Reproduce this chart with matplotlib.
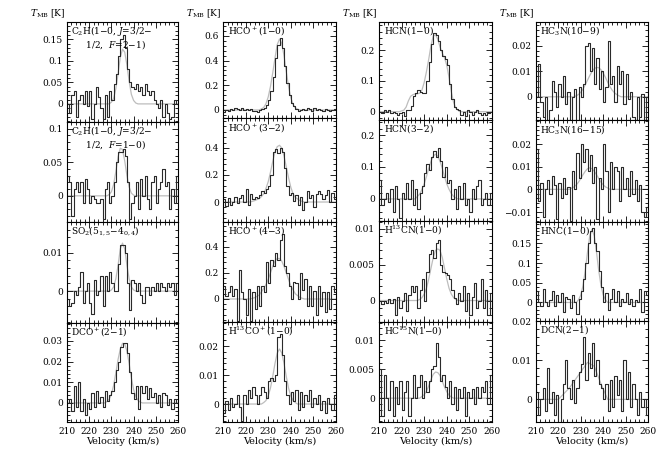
import numpy as np
import matplotlib
matplotlib.use("Agg")
import matplotlib.pyplot as plt
from matplotlib.ticker import MultipleLocator, FixedLocator, FuncFormatter

plt.rcParams['font.family'] = ['DejaVu Serif']
plt.rcParams['mathtext.fontset'] = 'dejavuserif'

# channel edges (km/s), 1 km/s channels
edges = np.arange(210, 261, 1)

# ---- spectra (T_MB in K), one value per channel 210..259 ----
c2h_21 = [0.0, -0.02, 0.02, 0.03, -0.03, 0.01, 0.02, 0.0, 0.03, -0.005,
          0.03, -0.035, 0.0, 0.04, 0.015, -0.01, -0.035, 0.02, -0.03, 0.03,
          0.01, 0.045, 0.07, 0.11, 0.15, 0.16, 0.13, 0.08, 0.05, 0.04,
          0.035, 0.045, 0.03, 0.04, 0.02, 0.045, 0.03, 0.02, 0.03, 0.01,
          0.0, -0.01, 0.01, -0.03, 0.0, -0.02, -0.035, -0.03, 0.01, 0.0]
c2h_10 = [0.03, 0.02, -0.03, 0.01, 0.02, 0.005, 0.02, -0.01, 0.025, 0.01,
          -0.01, 0.0, -0.005, -0.01, -0.01, -0.005, -0.035, 0.01, 0.02, -0.01,
          0.0, 0.02, 0.05, 0.065, 0.065, 0.07, 0.06, 0.02, -0.035, -0.01,
          0.0, 0.02, -0.02, 0.025, 0.0, 0.03, -0.005, -0.02, 0.02, 0.03,
          -0.01, 0.01, 0.02, 0.04, 0.015, 0.02, -0.02, 0.01, -0.01, 0.03]
so2 = [-0.002, -0.004, -0.003, 0.0, -0.001, 0.001, 0.005, -0.003, 0.0, 0.002,
       -0.003, -0.006, 0.003, -0.001, 0.0, 0.004, -0.004, 0.004, 0.0, 0.005,
       0.002, 0.0, 0.0, 0.007, 0.012, 0.012, 0.01, 0.002, -0.005, 0.003,
       0.002, 0.0, 0.002, -0.001, -0.003, 0.001, 0.001, -0.001, 0.001, 0.0,
       0.002, 0.0, 0.002, 0.001, 0.0, 0.002, 0.001, 0.002, -0.001, 0.002]
dco = [0.0, 0.002, -0.004, 0.008, -0.002, 0.01, -0.004, 0.002, -0.006, 0.0,
       -0.003, 0.005, -0.002, 0.006, 0.0, 0.003, -0.002, 0.006, 0.001, 0.004,
       0.006, 0.01, 0.016, 0.02, 0.027, 0.029, 0.029, 0.024, 0.015, 0.005,
       0.002, 0.008, -0.003, 0.008, 0.005, 0.008, 0.002, 0.007, 0.003, 0.005,
       0.0, 0.004, -0.002, 0.005, 0.004, -0.001, 0.002, -0.003, 0.002, 0.0]
hco_10 = [-0.02, 0.0, -0.01, 0.01, 0.0, 0.02, 0.01, 0.0, 0.02, 0.0,
          0.01, 0.0, 0.01, -0.01, -0.005, -0.02, 0.0, 0.01, 0.02, 0.04,
          0.08, 0.15, 0.27, 0.42, 0.53, 0.58, 0.5, 0.36, 0.22, 0.12,
          0.06, 0.03, 0.01, -0.01, 0.0, 0.01, 0.0, 0.02, 0.01, -0.01,
          0.02, 0.0, 0.01, 0.0, -0.01, 0.01, 0.0, -0.01, 0.0, 0.01]
hco_32 = [0.02, -0.03, 0.03, -0.02, 0.0, 0.04, -0.01, 0.03, 0.05, 0.0,
          0.1, -0.02, 0.06, 0.02, 0.04, 0.03, 0.05, 0.08, 0.07, 0.1,
          0.12, 0.2, 0.37, 0.39, 0.36, 0.4, 0.37, 0.25, 0.12, 0.05,
          0.07, 0.01, 0.05, -0.02, 0.04, -0.06, 0.0, 0.08, 0.03, 0.05,
          -0.04, 0.06, 0.08, 0.06, 0.02, 0.05, 0.09, 0.0, 0.07, 0.02]
hco_43 = [0.1, 0.02, 0.05, 0.1, 0.02, 0.08, -0.17, 0.22, 0.05, 0.0,
          -0.12, 0.08, -0.17, 0.05, -0.08, 0.1, -0.05, 0.1, 0.05, 0.28,
          0.12, 0.3, 0.25, 0.35, 0.3, 0.45, 0.5, 0.25, 0.2, 0.1,
          0.0, 0.13, 0.12, 0.0, 0.2, 0.07, 0.15, -0.05, 0.1, -0.05,
          0.06, -0.12, 0.1, -0.05, 0.05, -0.1, 0.05, -0.08, 0.1, 0.05]
h13co = [-0.003, 0.001, -0.002, 0.002, -0.001, 0.0, 0.003, -0.001, -0.006, 0.003,
         0.0, 0.005, 0.002, 0.006, 0.003, 0.0, 0.003, 0.006, 0.004, 0.002,
         0.008, 0.009, 0.008, 0.01, 0.023, 0.024, 0.017, 0.008, 0.003, 0.0,
         0.004, 0.001, 0.005, -0.002, 0.004, -0.001, 0.003, 0.001, 0.005, -0.001,
         0.002, 0.0, 0.003, -0.002, 0.001, -0.003, 0.002, 0.0, -0.002, 0.003]
hcn_10 = [0.0, -0.005, 0.005, 0.0, 0.005, -0.005, 0.0, -0.005, -0.01, -0.005,
          0.0, -0.015, 0.005, 0.005, 0.02, 0.05, 0.06, 0.07, 0.065, 0.06,
          0.06, 0.1, 0.16, 0.22, 0.255, 0.25, 0.23, 0.2, 0.18, 0.17,
          0.15, 0.09, 0.04, 0.015, 0.01, 0.005, -0.01, 0.0, -0.015, 0.005,
          0.0, -0.01, 0.0, 0.005, -0.005, -0.01, -0.005, -0.01, -0.005, 0.0]
hcn_32 = [0.06, -0.02, 0.0, 0.02, -0.01, 0.03, -0.04, 0.04, 0.0, -0.06,
          0.02, 0.0, 0.05, 0.0, 0.06, -0.02, 0.03, -0.03, 0.02, 0.04,
          0.08, 0.11, 0.09, 0.13, 0.15, 0.13, 0.16, 0.12, 0.07, 0.1,
          0.05, 0.06, 0.0, 0.03, -0.03, 0.04, 0.0, 0.05, -0.02, 0.0,
          -0.04, 0.03, 0.0, 0.04, 0.06, -0.02, 0.0, 0.02, -0.02, 0.02]
h13cn = [0.0, -0.0005, 0.0, -0.0003, 0.0002, -0.0004, 0.0002, -0.002, 0.0005, -0.001,
         0.0, 0.001, -0.0015, 0.0008, 0.002, 0.0012, 0.002, -0.001, 0.0015, 0.003,
         0.0, 0.004, 0.0065, 0.007, 0.006, 0.008, 0.0085, 0.005, 0.004, 0.0038,
         0.0035, 0.003, 0.0015, 0.0003, -0.0005, 0.001, 0.0, 0.002, -0.0015, 0.001,
         -0.002, 0.0005, 0.0025, -0.001, 0.0, 0.003, -0.001, 0.0015, -0.002, 0.001]
hc15n = [0.005, -0.003, 0.004, 0.0, -0.002, 0.003, -0.003, 0.002, -0.001, 0.003,
         -0.002, 0.001, 0.003, -0.003, 0.0, 0.004, 0.0, 0.002, 0.004, 0.0,
         0.003, 0.001, 0.003, 0.005, 0.0055, 0.0095, 0.007, 0.003, 0.004, 0.002,
         0.0, 0.003, -0.001, 0.002, -0.002, 0.0015, 0.0, 0.002, -0.003, 0.001,
         0.0, 0.0015, -0.001, 0.002, 0.0, 0.002, 0.001, 0.003, -0.001, 0.004]
hc3n_109 = [0.0, 0.013, -0.002, -0.008, 0.0, -0.01, -0.005, 0.006, 0.002, -0.004,
            0.005, 0.0, 0.008, -0.003, 0.002, -0.012, 0.0, 0.003, -0.012, 0.004,
            0.0, 0.005, 0.02, 0.021, 0.01, 0.019, 0.005, 0.015, 0.003, 0.01,
            -0.002, 0.004, 0.022, 0.005, 0.008, -0.002, 0.012, 0.005, 0.01, -0.003,
            0.009, -0.001, 0.002, -0.008, -0.009, 0.0, -0.008, 0.001, -0.009, 0.0]
hc3n_1615 = [0.018, -0.005, 0.003, -0.012, 0.0, 0.004, -0.002, 0.006, 0.002, -0.013,
             0.003, -0.004, 0.005, -0.002, 0.001, -0.014, 0.008, 0.0, 0.016, 0.005,
             0.02, 0.012, 0.018, 0.008, 0.015, 0.003, 0.01, -0.013, 0.005, 0.0,
             0.02, 0.008, -0.01, 0.012, 0.0, 0.01, 0.008, -0.005, 0.01, 0.0,
             0.005, -0.003, 0.008, -0.002, 0.004, -0.005, 0.002, -0.01, -0.012, -0.008]
hnc = [0.03, 0.0, -0.01, 0.035, 0.0, -0.01, 0.005, 0.03, -0.01, 0.02,
       0.0, 0.025, -0.025, 0.015, 0.01, -0.015, 0.02, 0.0, -0.03, 0.01,
       0.03, 0.06, 0.1, 0.15, 0.18, 0.19, 0.15, 0.13, 0.08, 0.04,
       0.0, 0.025, -0.02, 0.01, 0.035, 0.0, 0.03, -0.01, 0.01, 0.0,
       0.025, -0.005, 0.01, -0.01, 0.005, 0.0, 0.035, -0.025, 0.03, 0.02]
dcn = [0.002, -0.004, 0.0, 0.003, -0.003, 0.008, -0.001, 0.002, -0.004, 0.001,
       -0.006, 0.0, 0.004, 0.01, 0.003, 0.0, 0.005, -0.001, 0.003, 0.007,
       0.009, 0.016, 0.005, 0.012, 0.008, 0.0145, 0.006, 0.01, 0.004, 0.003,
       0.0, 0.004, -0.003, 0.005, -0.002, 0.006, 0.001, 0.005, -0.003, 0.01,
       0.0, 0.007, -0.002, 0.004, 0.0, -0.004, 0.002, -0.002, 0.0, -0.004]

c2h_21_fit_v = [210, 229, 230, 231, 232, 233, 234, 235, 236, 237, 238, 239, 240, 241, 242, 260]
c2h_21_fit_t = [0, 0, 0.004, 0.013, 0.035, 0.07, 0.108, 0.127, 0.12, 0.09, 0.052, 0.022, 0.008, 0.002, 0, 0]
c2h_10_fit_v = [210, 228, 229, 230, 231, 232, 233, 234, 235, 236, 237, 238, 239, 240, 241, 260]
c2h_10_fit_t = [0, 0, 0.002, 0.006, 0.017, 0.036, 0.058, 0.071, 0.069, 0.052, 0.03, 0.013, 0.004, 0.001, 0, 0]
so2_fit_v = [210, 229, 230, 231, 232, 233, 234, 235, 236, 237, 238, 239, 240, 241, 260]
so2_fit_t = [0, 0, 0.0003, 0.0011, 0.0032, 0.0067, 0.011, 0.0125, 0.011, 0.0067, 0.0032, 0.0011, 0.0003, 0, 0]
dco_fit_v = [210, 227, 228, 229, 230, 231, 232, 233, 234, 235, 236, 237, 238, 239, 240, 241, 242, 243, 244, 260]
dco_fit_t = [0, 0, 0.0007, 0.0018, 0.0042, 0.0085, 0.0145, 0.021, 0.026, 0.0288, 0.0285, 0.025, 0.019, 0.012,
             0.0065, 0.003, 0.0012, 0.0004, 0, 0]
hco_10_fit_v = [210, 226, 227, 228, 229, 230, 231, 232, 233, 234, 235, 236, 237, 238, 239, 240, 241, 242, 243, 244, 260]
hco_10_fit_t = [0, 0, 0.0085, 0.02, 0.05, 0.105, 0.19, 0.3, 0.42, 0.53, 0.575, 0.54, 0.44, 0.31, 0.19, 0.1,
                0.045, 0.018, 0.006, 0, 0]
hco_32_fit_v = [210, 222, 224, 226, 227, 228, 229, 230, 231, 232, 233, 234, 235, 236, 237, 238, 239, 240, 241,
                242, 244, 246, 260]
hco_32_fit_t = [0, 0, 0.01, 0.025, 0.04, 0.06, 0.1, 0.15, 0.22, 0.3, 0.37, 0.41, 0.42, 0.4, 0.34, 0.26, 0.18,
                0.11, 0.06, 0.035, 0.01, 0, 0]
hco_43_fit_v = [210, 222, 224, 226, 228, 229, 230, 231, 232, 233, 234, 235, 236, 237, 238, 239, 240, 241, 242,
                244, 246, 260]
hco_43_fit_t = [0, 0, 0.01, 0.03, 0.08, 0.11, 0.15, 0.2, 0.25, 0.29, 0.31, 0.31, 0.29, 0.25, 0.2, 0.15, 0.1,
                0.07, 0.04, 0.012, 0, 0]
h13co_fit_v = [210, 227, 228, 229, 230, 231, 232, 233, 234, 235, 236, 237, 238, 239, 240, 241, 242, 243, 260]
h13co_fit_t = [0, 0, 0.0005, 0.0012, 0.0028, 0.0055, 0.0095, 0.014, 0.0176, 0.019, 0.0176, 0.014, 0.0095,
               0.0055, 0.0028, 0.0012, 0.0005, 0, 0]
hcn_10_fit_v = [210, 219, 221, 222, 223, 224, 225, 226, 227, 228, 229, 230, 231, 232, 233, 234, 235, 236, 237,
                238, 239, 240, 241, 242, 243, 244, 245, 246, 260]
hcn_10_fit_t = [0, 0, 0.005, 0.015, 0.035, 0.05, 0.055, 0.058, 0.058, 0.06, 0.07, 0.095, 0.13, 0.17, 0.215,
                0.245, 0.25, 0.235, 0.21, 0.19, 0.175, 0.15, 0.11, 0.065, 0.03, 0.012, 0.004, 0, 0]
hcn_32_fit_v = [210, 226, 227, 228, 229, 230, 231, 232, 233, 234, 235, 236, 237, 238, 239, 240, 241, 242, 243,
                244, 245, 260]
hcn_32_fit_t = [0, 0, 0.008, 0.015, 0.03, 0.047, 0.07, 0.096, 0.118, 0.134, 0.14, 0.134, 0.118, 0.096, 0.07,
                0.047, 0.03, 0.017, 0.008, 0.003, 0, 0]
h13cn_fit_v = [210, 227, 228, 229, 230, 231, 232, 233, 234, 235, 236, 237, 238, 239, 240, 241, 242, 243, 244,
               245, 260]
h13cn_fit_t = [0, 0, 0.00015, 0.0004, 0.0009, 0.0017, 0.003, 0.0045, 0.006, 0.007, 0.0072, 0.007, 0.006,
               0.0045, 0.003, 0.0017, 0.0009, 0.0004, 0.00015, 0, 0]
hc15n_fit_v = [210, 228, 229, 230, 231, 232, 233, 234, 235, 236, 237, 238, 239, 240, 241, 242, 243, 260]
hc15n_fit_t = [0, 0, 0.0003, 0.0006, 0.0012, 0.0021, 0.0032, 0.0041, 0.0045, 0.0044, 0.0039, 0.0029, 0.0019,
               0.0011, 0.0005, 0.0002, 0, 0]
hc3n_109_fit_v = [210, 227, 228, 229, 230, 231, 232, 233, 234, 235, 236, 237, 238, 239, 240, 241, 242, 243,
                  244, 245, 246, 247, 248, 260]
hc3n_109_fit_t = [0, 0, 0.0004, 0.0009, 0.0018, 0.003, 0.0047, 0.0065, 0.0083, 0.0099, 0.011, 0.0115, 0.0114,
                  0.0106, 0.0093, 0.0076, 0.0057, 0.004, 0.0026, 0.0016, 0.0009, 0.0004, 0, 0]
hc3n_1615_fit_v = [210, 225, 226, 227, 228, 229, 230, 231, 232, 233, 234, 235, 236, 237, 238, 239, 240, 241,
                   242, 243, 260]
hc3n_1615_fit_t = [0, 0, 0.0006, 0.0011, 0.002, 0.0032, 0.0048, 0.0065, 0.008, 0.0091, 0.0095, 0.0091, 0.008,
                   0.0065, 0.0048, 0.0032, 0.002, 0.0011, 0.0006, 0, 0]
hnc_fit_v = [210, 228, 229, 230, 231, 232, 233, 234, 235, 236, 237, 238, 239, 240, 241, 242, 260]
hnc_fit_t = [0, 0, 0.007, 0.019, 0.043, 0.081, 0.128, 0.169, 0.185, 0.169, 0.128, 0.081, 0.043, 0.019, 0.007,
             0, 0]
dcn_fit_v = [210, 220, 225, 233, 236, 239, 242, 260]
dcn_fit_t = [0, 0, 0.003, 0.0095, 0.0085, 0.004, 0, 0]

# ---- panel labels ----
labels = [
    ["C$_2$H(1$-$0, $J$=3/2$-$\n     1/2,  $F$=2$-$1)", "C$_2$H(1$-$0, $J$=3/2$-$\n     1/2,  $F$=1$-$0)",
     "SO$_2$(5$_{1,5}$$-$4$_{0,4}$)", "DCO$^+$(2$-$1)"],
    ["HCO$^+$(1$-$0)", "HCO$^+$(3$-$2)", "HCO$^+$(4$-$3)", "H$^{13}$CO$^+$(1$-$0)"],
    ["HCN(1$-$0)", "HCN(3$-$2)", "H$^{13}$CN(1$-$0)", "HC$^{15}$N(1$-$0)"],
    ["HC$_3$N(10$-$9)", "HC$_3$N(16$-$15)", "HNC(1$-$0)", "DCN(2$-$1)"],
]

spectra = [[c2h_21, c2h_10, so2, dco],
           [hco_10, hco_32, hco_43, h13co],
           [hcn_10, hcn_32, h13cn, hc15n],
           [hc3n_109, hc3n_1615, hnc, dcn]]
fits = [[(c2h_21_fit_v, c2h_21_fit_t), (c2h_10_fit_v, c2h_10_fit_t), (so2_fit_v, so2_fit_t), (dco_fit_v, dco_fit_t)],
        [(hco_10_fit_v, hco_10_fit_t), (hco_32_fit_v, hco_32_fit_t), (hco_43_fit_v, hco_43_fit_t),
         (h13co_fit_v, h13co_fit_t)],
        [(hcn_10_fit_v, hcn_10_fit_t), (hcn_32_fit_v, hcn_32_fit_t), (h13cn_fit_v, h13cn_fit_t),
         (hc15n_fit_v, hc15n_fit_t)],
        [(hc3n_109_fit_v, hc3n_109_fit_t), (hc3n_1615_fit_v, hc3n_1615_fit_t), (hnc_fit_v, hnc_fit_t),
         (dcn_fit_v, dcn_fit_t)]]

# y limits, labelled ticks, minor step
ylims = [[(-0.042, 0.19), (-0.039, 0.11), (-0.0083, 0.018), (-0.0092, 0.0386)],
         [(-0.065, 0.713), (-0.148, 0.622), (-0.176, 0.589), (-0.0062, 0.0283)],
         [(-0.027, 0.291), (-0.069, 0.247), (-0.003, 0.0111), (-0.0041, 0.0131)],
         [(-0.0091, 0.0293), (-0.0144, 0.0306), (-0.047, 0.204), (-0.0058, 0.0201)]]
yticks = [[[0, 0.05, 0.1, 0.15], [0, 0.05, 0.1], [0, 0.01], [0, 0.01, 0.02, 0.03]],
          [[0, 0.2, 0.4, 0.6], [0, 0.2, 0.4], [0, 0.2, 0.4], [0, 0.01, 0.02]],
          [[0, 0.1, 0.2], [0, 0.1, 0.2], [0, 0.005, 0.01], [0, 0.005, 0.01]],
          [[0, 0.01, 0.02], [-0.01, 0, 0.01, 0.02], [0, 0.05, 0.1, 0.15], [0, 0.01, 0.02]]]
yminor = [[0.01, 0.01, 0.002, 0.002],
          [0.04, 0.04, 0.04, 0.002],
          [0.02, 0.02, 0.001, 0.001],
          [0.002, 0.002, 0.01, 0.002]]

# layout in pixels
W, H = 667, 467
col_x = [(67, 178), (223, 336), (379, 492), (536, 648)]
row_y = [[22, 122, 222, 323, 422],
         [22, 118, 222, 322, 422],
         [22, 120, 221, 322, 422],
         [22, 120, 222, 321, 422]]

fig = plt.figure(figsize=(W / 100, H / 100), dpi=100)

fmt = FuncFormatter(lambda v, p: ('%g' % v).replace('-', '\u2212'))

for c in range(4):
    x0, x1 = col_x[c]
    for r in range(4):
        ytop, ybot = row_y[c][r], row_y[c][r + 1]
        ax = fig.add_axes([x0 / W, 1 - ybot / H, (x1 - x0) / W, (ybot - ytop) / H])
        vals = spectra[c][r]
        fv, ft = fits[c][r]
        ax.plot(fv, ft, color='#bdbdbd', lw=0.9, zorder=1)
        ax.step(edges, list(vals) + [vals[-1]], where='post', color='#2a2a2a', lw=0.8, zorder=2)
        ax.set_xlim(210, 260)
        ax.set_ylim(*ylims[c][r])
        ax.xaxis.set_major_locator(MultipleLocator(10))
        ax.xaxis.set_minor_locator(MultipleLocator(2))
        ax.yaxis.set_major_locator(FixedLocator(yticks[c][r]))
        ax.yaxis.set_minor_locator(MultipleLocator(yminor[c][r]))
        ax.yaxis.set_major_formatter(fmt)
        ax.tick_params(which='both', direction='in', top=True, right=True, labelsize=6.5, width=0.6)
        ax.tick_params(which='major', length=4.5)
        ax.tick_params(which='minor', length=2.2)
        ax.tick_params(axis='y', pad=3)
        for s in ax.spines.values():
            s.set_linewidth(0.8)
        if r < 3:
            ax.tick_params(axis='x', labelbottom=False)
        else:
            ax.set_xlabel('Velocity (km/s)', fontsize=7, labelpad=1)
        ax.text(0.04, 0.975, labels[c][r], transform=ax.transAxes, ha='left', va='top',
                fontsize=6.5, linespacing=0.95)
    fig.text((x0 - 2) / W, 1 - 20 / H, r'$T_{\rm MB}$ [K]', ha='right', va='bottom', fontsize=6.5)

fig.savefig('out.png', dpi=100)
